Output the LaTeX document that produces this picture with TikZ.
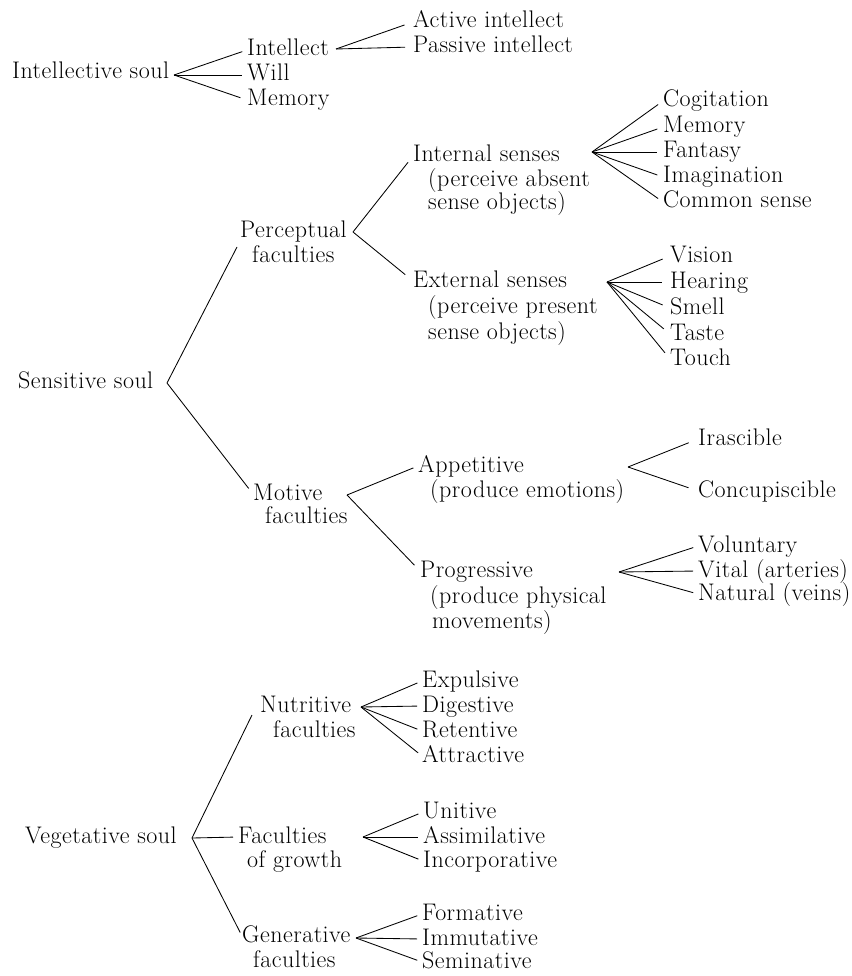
\documentclass[tikz,border=0pt]{standalone}
\usepackage{fontspec}
\setmainfont{Latin Modern Roman}[LetterSpace=2.0]
\usetikzlibrary{calc}
\begin{document}
\begin{tikzpicture}[x=1pt,y=-1pt,
  lbl/.style={anchor=base west, inner sep=0pt, text height=12pt, text depth=0pt,
              font=\fontsize{24}{28}\selectfont},
  conn/.style={line width=0.85pt, shorten >=#1},
  conn/.default=5pt]
\useasboundingbox (0,0) rectangle (851,976);

% ---------------- Intellective soul ----------------
\node[lbl] (isoul)   at (12,79)  {Intellective soul};
\node[lbl] (intel)   at (247,56) {Intellect};
\node[lbl] (will)    at (247,81) {Will};
\node[lbl] (mem1)    at (247,106) {Memory};
\node[lbl] (active)  at (413,28) {Active intellect};
\node[lbl] (passive) at (413,53) {Passive intellect};
\coordinate (f-isoul) at (174,75);
\coordinate (f-intel) at (336,49);
\draw[conn] (f-isoul) -- (intel.west);
\draw[conn] (f-isoul) -- (will.west);
\draw[conn=7pt] (f-isoul) -- (mem1.west);
\draw[conn=9pt] (f-intel) -- (active.west);
\draw[conn=8pt] (f-intel) -- (passive.west);

% ---------------- Sensitive soul ----------------
\node[lbl] (ssoul)   at (18,388)  {Sensitive soul};
\node[lbl] (perc)    at (240,237) {Perceptual};
\node[lbl] (percb)   at (252,262) {faculties};
\node[lbl] (motive)  at (253,500) {Motive};
\node[lbl] (motiveb) at (265,523) {faculties};
\coordinate (f-ssoul) at (167,383);
\coordinate (f-perc)  at (353,232);
\coordinate (f-mot)   at (347,495);
\draw[conn=0pt] (f-ssoul) -- ($(perc.west)+(-3,16)$);
\draw[conn=7pt] (f-ssoul) -- (motive.west);

% internal / external senses
\node[lbl] (int)   at (413,162) {Internal senses};
\node[lbl] (intb)  at (428,187) {(perceive absent};
\node[lbl] (intc)  at (428,210) {sense objects)};
\node[lbl] (ext)   at (413,287) {External senses};
\node[lbl] (extb)  at (428,313) {(perceive present};
\node[lbl] (extc)  at (428,339) {sense objects)};
\coordinate (f-int) at (592,152);
\coordinate (f-ext) at (607,282);
\draw[conn=8pt] (f-perc) -- (int.west);
\draw[conn=10pt] (f-perc) -- (ext.west);

\node[lbl] (cog)   at (663,107) {Cogitation};
\node[lbl] (mem2)  at (663,133) {Memory};
\node[lbl] (fant)  at (663,158) {Fantasy};
\node[lbl] (imag)  at (663,183) {Imagination};
\node[lbl] (comm)  at (663,208) {Common sense};
\foreach \c in {cog,mem2,fant,imag,comm}
  \draw[conn=6pt] (f-int) -- (\c.west);

\node[lbl] (vis)   at (670,262) {Vision};
\node[lbl] (hear)  at (670,288) {Hearing};
\node[lbl] (smell) at (670,314) {Smell};
\node[lbl] (taste) at (670,340) {Taste};
\node[lbl] (touch) at (670,365) {Touch};
\foreach \c in {vis,hear,smell,taste,touch}
  \draw[conn=8pt] (f-ext) -- (\c.west);

% appetitive / progressive
\node[lbl] (app)   at (418,472) {Appetitive};
\node[lbl] (appb)  at (430,497) {(produce emotions)};
\node[lbl] (prog)  at (420,577) {Progressive};
\node[lbl] (progb) at (430,603) {(produce physical};
\node[lbl] (progc) at (432,628) {movements)};
\coordinate (f-app)  at (628,467);
\coordinate (f-prog) at (619,572);
\draw[conn=5pt] (f-mot) -- (app.west);
\draw[conn=8pt] (f-mot) -- (prog.west);

\node[lbl] (irasc)  at (698,445) {Irascible};
\node[lbl] (concup) at (698,497) {Concupiscible};
\draw[conn=10pt] (f-app) -- (irasc.west);
\draw[conn=10pt] (f-app) -- (concup.west);

\node[lbl] (volun)   at (698,552) {Voluntary};
\node[lbl] (vital)   at (698,577) {Vital (arteries)};
\node[lbl] (natural) at (698,600) {Natural (veins)};
\foreach \c in {volun,vital,natural}
  \draw[conn=5pt] (f-prog) -- (\c.west);

% ---------------- Vegetative soul ----------------
\node[lbl] (vsoul) at (25,843)  {Vegetative soul};
\node[lbl] (nutr)  at (260,712) {Nutritive};
\node[lbl] (nutrb) at (273,737) {faculties};
\node[lbl] (grow)  at (238,843) {Faculties};
\node[lbl] (growb) at (247,867) {of growth};
\node[lbl] (gen)   at (242,942) {Generative};
\node[lbl] (genb)  at (253,967) {faculties};
\coordinate (f-vsoul) at (192,838);
\coordinate (f-nutr)  at (361,707);
\coordinate (f-grow)  at (363,837);
\coordinate (f-gen)   at (356,938);
\draw[conn=0pt] (f-vsoul) -- ($(nutr.west)+(-8,9)$);
\draw[conn=5pt] (f-vsoul) -- (grow.west);
\draw[conn=4pt] (f-vsoul) -- (gen.west);

\node[lbl] (expul)  at (422,687) {Expulsive};
\node[lbl] (dige)   at (422,712) {Digestive};
\node[lbl] (reten)  at (422,737) {Retentive};
\node[lbl] (attra)  at (422,762) {Attractive};
\foreach \c in {expul,dige,reten,attra}
  \draw[conn=5pt] (f-nutr) -- (\c.west);

\node[lbl] (unit)   at (423,818) {Unitive};
\node[lbl] (assim)  at (423,843) {Assimilative};
\node[lbl] (incor)  at (423,867) {Incorporative};
\foreach \c in {unit,assim,incor}
  \draw[conn=5pt] (f-grow) -- (\c.west);

\node[lbl] (form)   at (422,920) {Formative};
\node[lbl] (immu)   at (422,945) {Immutative};
\node[lbl] (semi)   at (422,968) {Seminative};
\foreach \c in {form,immu,semi}
  \draw[conn=5pt] (f-gen) -- (\c.west);
\end{tikzpicture}
\end{document}
